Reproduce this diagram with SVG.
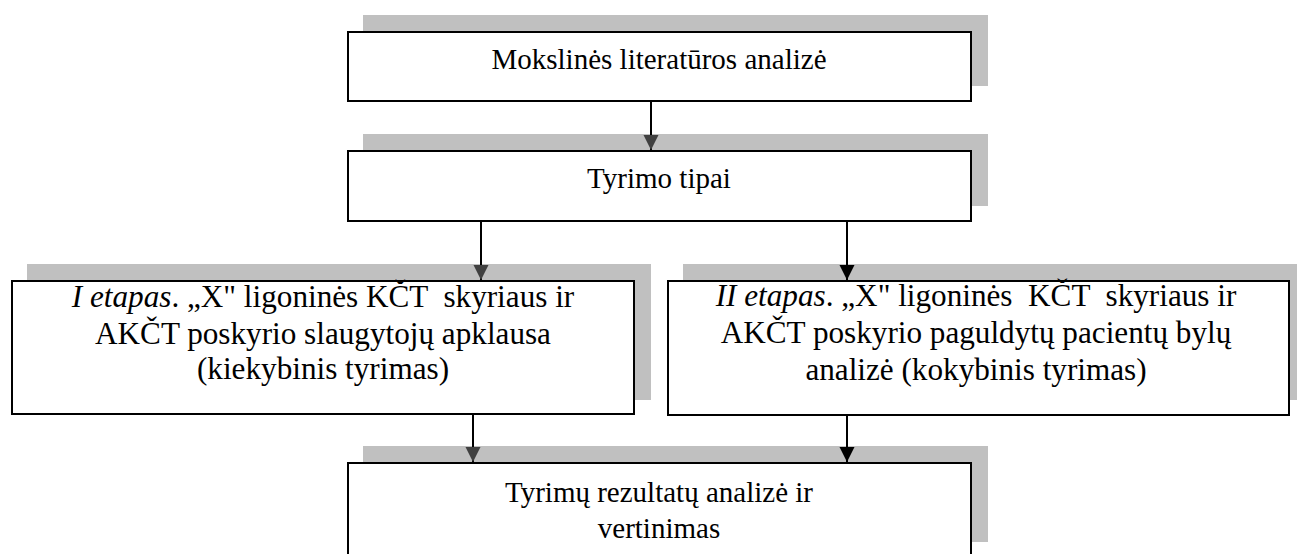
<svg xmlns="http://www.w3.org/2000/svg" width="1297" height="554" viewBox="0 0 1297 554">
<style>
.bg{fill:#ffffff}
.sh{fill:#c0c0c0;stroke:none}
.bx{fill:#ffffff;stroke:#000000;stroke-width:2}
.t{font-family:"Liberation Serif","Times New Roman",serif;fill:#000000;text-anchor:middle;white-space:pre}
.s29{font-size:29px}
.s31{font-size:31.2px}
.it{font-style:italic}
.cn{stroke:#000000;stroke-width:2;fill:none}
</style>
<defs>
<marker id="ahg" markerUnits="userSpaceOnUse" markerWidth="15" markerHeight="16" refX="15" refY="7.5" orient="auto" viewBox="0 0 15 15"><path d="M0,0 L15,7.5 L0,15 z" fill="#404040"/></marker>
<marker id="ahb" markerUnits="userSpaceOnUse" markerWidth="15" markerHeight="16" refX="15" refY="7.5" orient="auto" viewBox="0 0 15 15"><path d="M0,0 L15,7.5 L0,15 z" fill="#000000"/></marker>
</defs>
<rect class="bg" x="0" y="0" width="1297" height="554"/>
<g id="node-literatura">
<rect class="sh" x="363" y="15" width="625" height="71"/>
<rect class="bx" x="348" y="32" width="623" height="69"/>
<text class="t s29" x="659" y="69">Mokslinės literatūros analizė</text>
</g>
<g id="node-tipai">
<rect class="sh" x="363" y="134" width="625" height="72"/>
<rect class="bx" x="348" y="151" width="623" height="70"/>
<text class="t s29" x="659" y="188">Tyrimo tipai</text>
</g>
<g id="node-etapas1">
<rect class="sh" x="27" y="264" width="624" height="136"/>
<rect class="bx" x="12" y="281" width="622" height="133"/>
<text class="t s31" x="323" y="307"><tspan class="it">I etapas</tspan>. „X" ligoninės KČT  skyriaus ir</text>
<text class="t s31" x="323" y="344">AKČT poskyrio slaugytojų apklausa</text>
<text class="t s31" x="323" y="379">(kiekybinis tyrimas)</text>
</g>
<g id="node-etapas2">
<rect class="sh" x="683" y="264" width="623" height="136"/>
<rect class="bx" x="668" y="281" width="621" height="134"/>
<text class="t s31" x="976" y="306"><tspan class="it">II etapas</tspan>. „X" ligoninės  KČT  skyriaus ir</text>
<text class="t s31" x="976" y="343">AKČT poskyrio paguldytų pacientų bylų</text>
<text class="t s31" x="976" y="380">analizė (kokybinis tyrimas)</text>
</g>
<g id="node-rezultatai">
<rect class="sh" x="363" y="446" width="625" height="96"/>
<rect class="bx" x="348" y="463" width="623" height="96"/>
<text class="t s29" x="659" y="502">Tyrimų rezultatų analizė ir</text>
<text class="t s29" x="659" y="538">vertinimas</text>
</g>
<g id="connectors">
<line class="cn" x1="651" y1="102" x2="651" y2="150" marker-end="url(#ahg)"/>
<line class="cn" x1="481" y1="222" x2="481" y2="280" marker-end="url(#ahg)"/>
<line class="cn" x1="847" y1="222" x2="847" y2="280" marker-end="url(#ahb)"/>
<line class="cn" x1="473" y1="415" x2="473" y2="462" marker-end="url(#ahg)"/>
<line class="cn" x1="847" y1="416" x2="847" y2="462" marker-end="url(#ahb)"/>
</g>
</svg>
